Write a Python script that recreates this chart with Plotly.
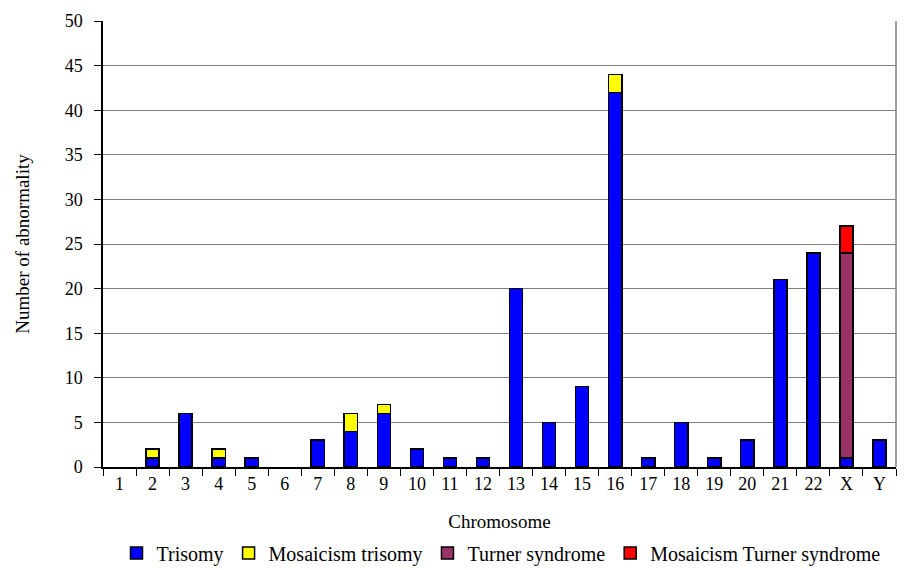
import plotly.graph_objects as go

categories = ["1","2","3","4","5","6","7","8","9","10","11","12","13","14","15","16","17","18","19","20","21","22","X","Y"]
trisomy =            [0,1,6,1,1,0,3,4,6,2,1,1,20,5,9,42,1,5,1,3,21,24,1,3]
mosaic_trisomy =     [0,1,0,1,0,0,0,2,1,0,0,0,0,0,0,2,0,0,0,0,0,0,0,0]
turner =             [0,0,0,0,0,0,0,0,0,0,0,0,0,0,0,0,0,0,0,0,0,0,23,0]
mosaic_turner =      [0,0,0,0,0,0,0,0,0,0,0,0,0,0,0,0,0,0,0,0,0,0,3,0]

series = [
    ("Trisomy", trisomy, "#0000FF"),
    ("Mosaicism trisomy", mosaic_trisomy, "#FFFF00"),
    ("Turner syndrome", turner, "#993366"),
    ("Mosaicism Turner syndrome", mosaic_turner, "#FF0000"),
]

fig = go.Figure()
for name, vals, color in series:
    fig.add_trace(go.Bar(
        x=categories, y=[v if v else None for v in vals], name=name,
        marker=dict(color=color, line=dict(color="black", width=1.5)),
    ))

font = "Liberation Serif"
fig.update_layout(
    width=898, height=562,
    barmode="stack", bargap=0.6,
    margin=dict(l=95, r=10, t=13, b=103, autoexpand=False),
    plot_bgcolor="white", paper_bgcolor="white",
    font=dict(family=font, size=18, color="black"),
    showlegend=True,
    legend=dict(orientation="h", x=0.549, xanchor="center", xref="container",
                y=0.065, yanchor="top", yref="container",
                font=dict(family=font, size=20), traceorder="normal", itemwidth=30,
                tracegroupgap=0),
    xaxis=dict(
        type="category", showline=True, linecolor="black", linewidth=1.5,
        ticks="outside", tickson="boundaries", ticklen=7, tickcolor="black",
        title=dict(text="Chromosome", standoff=21, font=dict(family=font, size=19)),
        tickfont=dict(family=font, size=18), automargin=False,
    ),
    yaxis=dict(
        range=[0, 50], dtick=5, showline=True, linecolor="black", linewidth=1.5,
        ticks="outside", ticklen=7, tickcolor="black",
        ticklabelstandoff=8,
        showgrid=True, gridcolor="#808080", gridwidth=1,
        title=dict(text="Number of abnormality", standoff=30, font=dict(family=font, size=19)),
        tickfont=dict(family=font, size=18), zeroline=False, automargin=False,
    ),
)
fig.add_shape(type="line", xref="paper", yref="paper", x0=1, x1=1, y0=0, y1=1,
              line=dict(color="#808080", width=1.5))
fig.write_html("out.html")
